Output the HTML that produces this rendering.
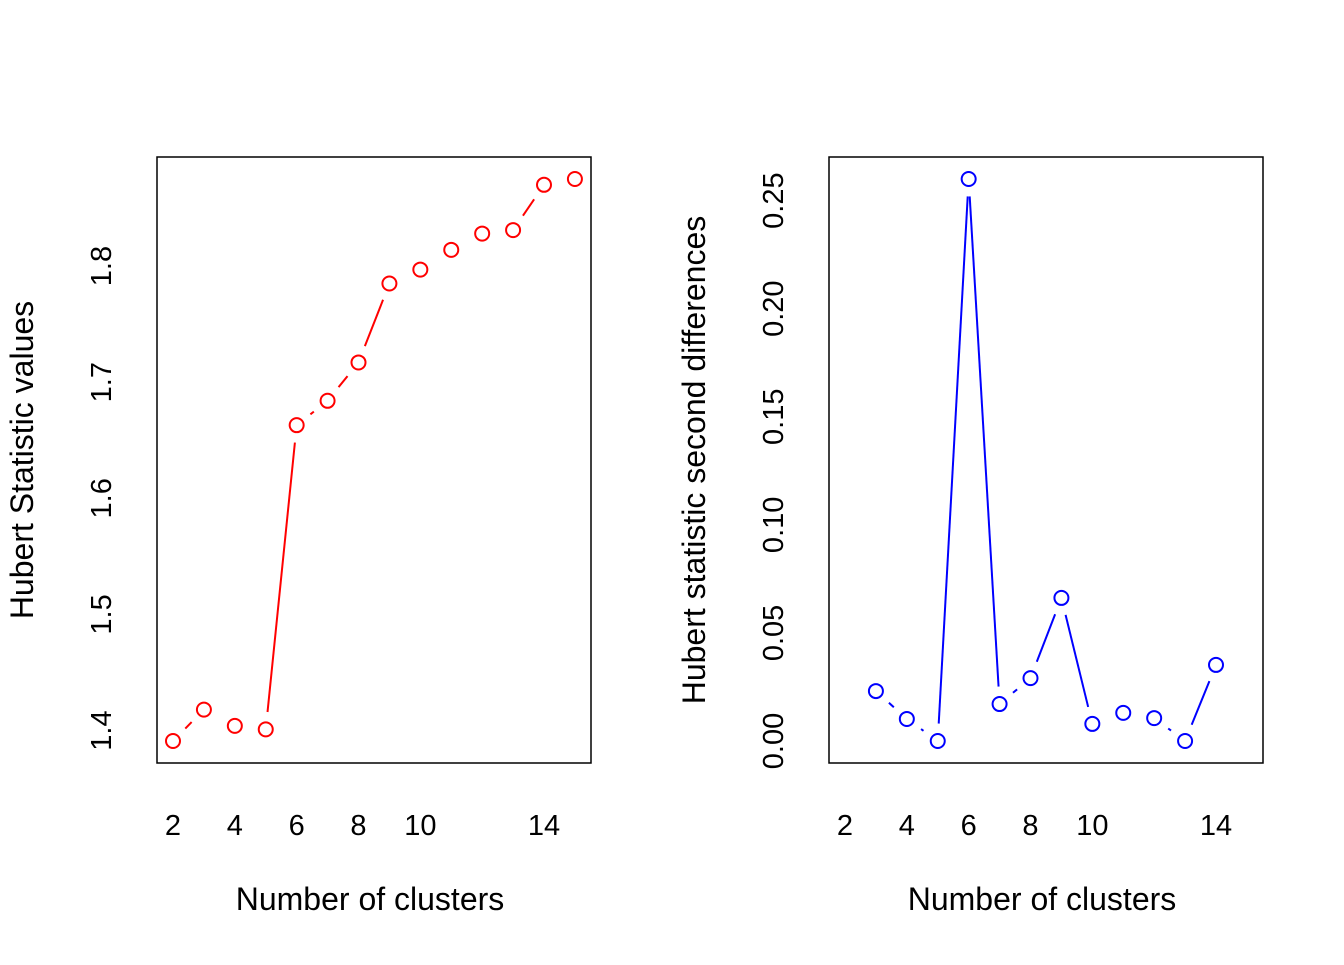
<!DOCTYPE html>
<html><head><meta charset="utf-8"><style>
body{margin:0;background:#fff}
svg text{font-family:"Liberation Sans",Arial,sans-serif;fill:#000}
</style></head><body>
<svg width="1344" height="960" viewBox="0 0 1344 960">
<g id="p1"></g>
<g id="p2"></g>
</svg>
<script>
const clusters1=[2,3,4,5,6,7,8,9,10,11,12,13,14,15];
const hubertValues=[1.391,1.418,1.404,1.401,1.663,1.684,1.717,1.785,1.797,1.814,1.828,1.831,1.870,1.875];
const clusters2=[3,4,5,6,7,8,9,10,11,12,13,14];
const secondDiffs=[0.0231,0.0102,0,0.26,0.0171,0.0291,0.0662,0.0079,0.013,0.0106,0,0.0352];
const xTicks=[2,4,6,8,10,14];
const yTicks1=["1.4","1.5","1.6","1.7","1.8"];
const yTicks2=["0.00","0.05","0.10","0.15","0.20","0.25"];
const NS="http://www.w3.org/2000/svg";
function mk(p,t,a,txt){const e=document.createElementNS(NS,t);for(const k in a)e.setAttribute(k,a[k]);if(txt!==undefined)e.textContent=txt;p.appendChild(e);return e;}
function panel(g,L,xs,ys,yt,color,ytitle){
 const T=157;
 const xScale=v=>L+16+(v-2)*(371/12);
 const ymin=Math.min(...ys),ymax=Math.max(...ys);
 const yScale=v=>741-(v-ymin)/(ymax-ymin)*562;
 const box=mk(g,'rect',{x:L,y:T,width:434,height:606,fill:'none',stroke:'#000','stroke-width':1.5});
 
 
 xTicks.forEach(v=>{const t=mk(g,'text',{x:xScale(v),y:835,'font-size':29,'text-anchor':'middle'},v);
  
  });
 yt.forEach(s=>{const y=yScale(parseFloat(s));const t=mk(g,'text',{x:0,y:0,'font-size':29,'text-anchor':'middle',transform:`translate(${L-46},${y}) rotate(-90)`},s);
  
  });
 const xt=mk(g,'text',{x:L+213,y:910,'font-size':32,'text-anchor':'middle'},'Number of clusters');
 
 
 const yT=mk(g,'text',{x:0,y:0,'font-size':32,'text-anchor':'middle',transform:`translate(${L-124},460) rotate(-90)`},ytitle);
 
 
 const pts=xs.map((x,i)=>[xScale(x),yScale(ys[i])]);
 const gap=17.5;
 for(let i=0;i<pts.length-1;i++){
  const [x1,y1]=pts[i],[x2,y2]=pts[i+1];const d=Math.hypot(x2-x1,y2-y1);
  if(d<=2*gap+2)continue;const ux=(x2-x1)/d,uy=(y2-y1)/d;
  const l=mk(g,'line',{x1:x1+ux*gap,y1:y1+uy*gap,x2:x2-ux*gap,y2:y2-uy*gap,stroke:color,'stroke-width':2});
  
  
 }
 pts.forEach(p=>{const c=mk(g,'circle',{cx:p[0],cy:p[1],r:7,fill:'none',stroke:color,'stroke-width':2});
  
  });
}
panel(document.getElementById('p1'),157,clusters1,hubertValues,yTicks1,'#ff0000','Hubert Statistic values');
panel(document.getElementById('p2'),829,clusters2,secondDiffs,yTicks2,'#0000ff','Hubert statistic second differences');
</script>
</body></html>
